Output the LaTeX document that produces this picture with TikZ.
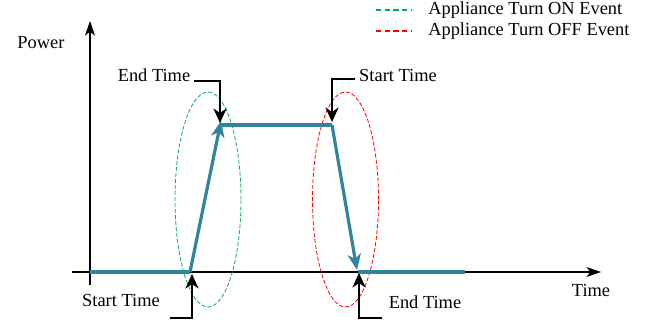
\documentclass[tikz,border=0pt]{standalone}
\usepackage{fontspec}
\setmainfont{Liberation Serif}
\usetikzlibrary{arrows.meta}

\definecolor{signalblue}{RGB}{49,132,155}
\definecolor{ongreen}{RGB}{0,176,80}
\definecolor{offred}{RGB}{255,0,0}

\tikzset{
    axis/.style={black, line width=0.8pt, -{Stealth[length=11pt, width=7.5pt, inset=3pt]}},
    signal/.style={signalblue, line width=2.4pt},
    signalarrow/.style={signal, -{Stealth[length=12pt, width=10pt, inset=3.5pt]}},
    callout/.style={black, line width=0.8pt, -{Stealth[length=11pt, width=10pt, inset=3.5pt]}},
    label/.style={inner sep=3pt},
    onevent/.style={ongreen, line width=0.6pt, dash pattern=on 3pt off 1.5pt},
    offevent/.style={offred, line width=0.6pt, dash pattern=on 3pt off 1.5pt},
}

\begin{document}
\begin{tikzpicture}[x=0.75pt, y=-0.75pt, font=\fontsize{13.8}{16}\selectfont]
    \useasboundingbox (0,0) rectangle (653,322);

    % axes
    \coordinate (ybot) at (90,285);
    \coordinate (ytop) at (90,21);
    \coordinate (xleft) at (72,272);
    \coordinate (xright) at (601,272);
    \draw[axis] (ybot) -- (ytop);
    \draw[axis] (xleft) -- (xright);
    \node[label] (power) at (41,43) {Power};
    \node[label] (time) at (591,290) {Time};

    % event ellipses
    \draw[onevent] (208,199.5) ellipse [x radius=24.75pt, y radius=80.6pt];
    \draw[offevent] (345.5,199.5) ellipse [x radius=24.75pt, y radius=80.6pt];

    % signal
    \coordinate (s0) at (90,272);
    \coordinate (s1) at (190,272);
    \coordinate (s2) at (221,121);
    \coordinate (s3) at (221,125);
    \coordinate (s4) at (332,125);
    \coordinate (s5) at (357,270);
    \coordinate (s6) at (358,272);
    \coordinate (s7) at (465,272);
    \draw[signal] (s0) -- (s1);
    \draw[signalarrow] (s1) -- (s2);
    \draw[signal] (s3) -- (s4);
    \draw[signalarrow] (s4) -- (s5);
    \draw[signal] (s6) -- (s7);

    % callouts
    \node[label] (end1) at (154,75) {End Time};
    \coordinate (tip1) at (220,123);
    \draw[callout] ([yshift=-4.5pt]end1.east) -| (tip1);

    \node[label] (start2) at (398,75) {Start Time};
    \coordinate (tip2) at (332,122);
    \draw[callout] ([yshift=-3pt]start2.west) -| (tip2);

    \node[label] (start1) at (121,300) {Start Time};
    \coordinate (corner3) at (170,318);
    \coordinate (tip3) at (192,274);
    \draw[callout] (corner3) -| (tip3);

    \node[label] (end2) at (425,302) {End Time};
    \coordinate (corner4) at (382,318);
    \coordinate (tip4) at (359,273);
    \draw[callout] (corner4) -| (tip4);

    % legend
    \coordinate (on0) at (376,10);
    \coordinate (on1) at (412,10);
    \coordinate (off0) at (376,31);
    \coordinate (off1) at (412,31);
    \draw[ongreen, line width=1.5pt, dash pattern=on 4pt off 2.5pt] (on0) -- (on1);
    \draw[offred, line width=1.5pt, dash pattern=on 4pt off 2.5pt] (off0) -- (off1);
    \node[label, anchor=west] (onlabel) at (424,10) {Appliance Turn ON Event};
    \node[label, anchor=west] (offlabel) at (424,31) {Appliance Turn OFF Event};
\end{tikzpicture}
\end{document}
